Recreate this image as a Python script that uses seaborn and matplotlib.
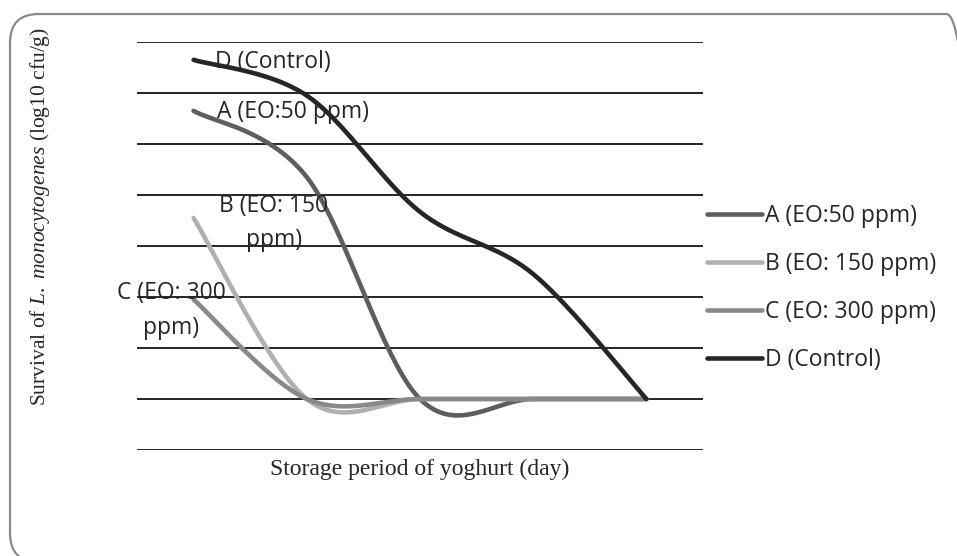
import numpy as np
import pandas as pd
import matplotlib
matplotlib.use("Agg")
import matplotlib.pyplot as plt
import seaborn as sns
from matplotlib.patches import FancyBboxPatch

# --- data (one unit = one gridline) ---
days = [0, 1, 2, 3, 4]
series_names = ["A (EO:50 ppm)", "B (EO: 150 ppm)", "C (EO: 300 ppm)", "D (Control)"]
a_vals = [6.65, 5.35, 1.0, 1.0, 1.0]
b_vals = [4.55, 1.0, 1.0, 1.0, 1.0]
c_vals = [2.95, 1.0, 1.0, 1.0, 1.0]
d_vals = [7.65, 6.95, 4.67, 3.45, 1.0]
colors = ["#5e5e5e", "#b0b0b0", "#898989", "#262626"]


def excel_smooth(xs, ys, steps=40):
    """Bezier smoothing like the Excel 'smoothed line' option."""
    p = np.column_stack([xs, ys]).astype(float)
    n = len(p)
    out = [p[0]]
    for i in range(n - 1):
        p0 = p[max(i - 1, 0)]
        p1, p2 = p[i], p[i + 1]
        p3 = p[min(i + 2, n - 1)]
        c1 = p1 + (p2 - p0) / 6
        c2 = p2 - (p3 - p1) / 6
        t = np.linspace(0, 1, steps)[1:, None]
        seg = ((1 - t) ** 3) * p1 + 3 * ((1 - t) ** 2) * t * c1 + 3 * (1 - t) * t ** 2 * c2 + t ** 3 * p2
        out.extend(seg)
    out = np.array(out)
    return out[:, 0], out[:, 1]


frames = []
for name, vals in zip(series_names, [a_vals, b_vals, c_vals, d_vals]):
    sx, sy = excel_smooth(days, vals)
    frames.append(pd.DataFrame({"day": sx, "value": sy, "series": name}))
df = pd.concat(frames, ignore_index=True)

sns.set_theme(style="white")
plt.rcParams["font.family"] = ["Open Sans", "DejaVu Sans"]
plt.rcParams["mathtext.fontset"] = "custom"
plt.rcParams["mathtext.rm"] = "Liberation Serif"
plt.rcParams["mathtext.it"] = "Liberation Serif:italic"

W, H = 957, 556
fig = plt.figure(figsize=(W / 100, H / 100), dpi=100)
ax = fig.add_axes([137 / W, (H - 450) / H, 566 / W, 408 / H])

# rounded frame around the whole chart
frame = FancyBboxPatch((10 / W, -6 / H), 965 / W, 548 / H,
                       boxstyle="round,pad=0,rounding_size=0.03",
                       transform=fig.transFigure, fill=False,
                       edgecolor="#8a8a8a", linewidth=1.6, zorder=0,
                       mutation_aspect=W / H)
fig.patches.append(frame)

for yv in range(0, 9):
    ax.axhline(yv, color="black", linewidth=1.2, zorder=1)

sns.lineplot(data=df, x="day", y="value", hue="series", hue_order=series_names,
             palette=colors, sort=False, estimator=None, units="series",
             linewidth=3.3, ax=ax, zorder=3, solid_capstyle="round")

ax.set_xlim(-0.5, 4.5)
ax.set_ylim(0, 8)
ax.set_xticks([])
ax.set_yticks([])
ax.set_xlabel("")
ax.set_ylabel("")
for s in ax.spines.values():
    s.set_visible(False)

# labels beside the lines
lab_fs = 16.5
ax.text(0.19, 7.6, "D (Control)", fontsize=lab_fs, ha="left", va="center", zorder=4)
ax.text(0.205, 6.63, "A (EO:50 ppm)", fontsize=lab_fs, ha="left", va="center", zorder=4)
ax.text(0.71, 4.45, "B (EO: 150\nppm)", fontsize=lab_fs, ha="center", va="center",
        linespacing=1.6, zorder=4)
ax.text(-0.2, 2.74, "C (EO: 300\nppm)", fontsize=lab_fs, ha="center", va="center",
        linespacing=1.6, zorder=4)

leg = ax.legend(loc="center left", bbox_to_anchor=(707 / W, (H - 288) / H),
                bbox_transform=fig.transFigure, frameon=False, fontsize=lab_fs,
                handlelength=2.4, handletextpad=0.12, labelspacing=1.04, borderpad=0,
                borderaxespad=0)
for line in leg.get_lines():
    line.set_linewidth(3.3)

fig.text(420 / W, (H - 469) / H, "Storage period of yoghurt (day)",
         family="Liberation Serif", fontsize=17, ha="center", va="center")
fig.text(40 / W, (H - 217) / H, r"Survival of $\it{L.\ monocytogenes}$ (log10 cfu/g)",
         family="Liberation Serif", fontsize=15.5, ha="center", va="center", rotation=90)

fig.savefig("out.png", dpi=100)
